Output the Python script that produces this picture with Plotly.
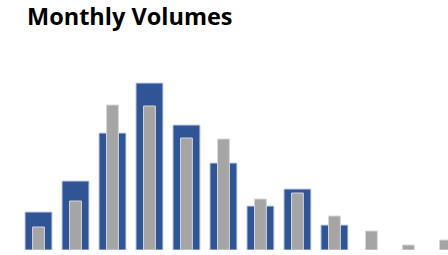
import plotly.graph_objects as go

months = ["Jan", "Feb", "Mar", "Apr", "May", "Jun", "Jul", "Aug", "Sep", "Oct", "Nov", "Dec"]
current_year = [38, 69, 117, 167, 125, 87, 44, 61, 25, None, None, None]
prior_year = [23, 49, 145, 144, 112, 111, 51, 57, 34, 19, 5, 10]

fig = go.Figure()
fig.add_trace(go.Bar(
    x=months, y=current_year, name="Current year", width=0.73,
    marker=dict(color="#2F5597", line=dict(color="#C9D3EA", width=1)),
))
fig.add_trace(go.Bar(
    x=months, y=prior_year, name="Prior year", width=0.32,
    marker=dict(color="#A5A5A5", line=dict(color="#D6D6D6", width=1)),
))

fig.update_layout(
    width=448, height=255,
    barmode="overlay",
    showlegend=False,
    plot_bgcolor="white", paper_bgcolor="white",
    margin=dict(l=20, r=0, t=50, b=5),
    title=dict(text="<b>Monthly Volumes</b>", x=27 / 448, xanchor="left", y=1 - 9 / 255, yanchor="top",
               pad=dict(t=0, l=0), font=dict(family="Open Sans", size=23.5, color="#000000")),
    xaxis=dict(visible=False, range=[-0.5, 11.07]),
    yaxis=dict(visible=False, range=[0, 200]),
)
fig.write_html("out.html", config={"displayModeBar": False},
               post_script="document.body.style.margin='0';")
